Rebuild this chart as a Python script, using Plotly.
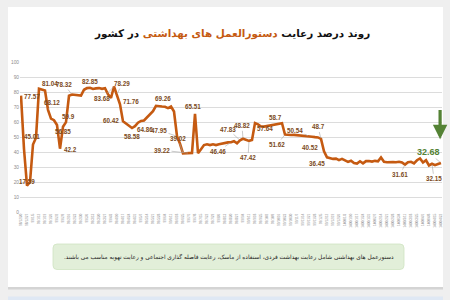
import plotly.graph_objects as go

# ---------------- data ----------------
values = [
    77.57, 42.0, 17.59, 20.0, 45.01, 49.5, 82.2, 81.8, 81.04, 68.12,
    62.2, 61.2, 58.0, 42.2, 56.85, 59.9, 77.5, 78.32, 78.1, 77.8,
    77.6, 81.5, 82.6, 82.85, 82.0, 82.4, 82.6, 82.1, 82.5, 78.5,
    76.0, 83.68, 78.29, 71.76, 60.42, 59.2, 57.5, 56.0, 57.2, 59.5,
    60.7, 61.0, 63.2, 64.86, 67.2, 70.8, 70.3, 70.3, 70.2, 69.26,
    70.3, 67.0, 50.5, 45.5, 39.02, 39.2, 39.22, 39.4, 65.51, 39.2,
    41.8, 44.6, 45.1, 44.6, 45.1, 44.6, 45.1, 45.6, 46.2, 46.4,
    46.46, 47.2, 45.8, 47.83, 48.82, 47.9, 47.42, 48.0, 59.3, 58.4,
    57.0, 56.9, 57.3, 57.64, 58.0, 58.3, 58.7, 59.2, 51.62, 51.3,
    51.3, 51.4, 51.2, 51.3, 51.3, 50.9, 50.54, 50.2, 49.9, 49.7,
    48.7, 40.52, 36.45, 36.0, 35.4, 35.6, 34.6, 35.4, 34.2, 33.4,
    34.2, 32.6, 32.3, 33.8, 32.4, 33.9, 34.0, 33.6, 34.1, 33.8,
    36.4, 33.5, 33.2, 33.4, 33.3, 33.2, 33.5, 33.0, 31.61, 33.2,
    33.5, 32.4, 34.5, 35.7, 33.0, 34.5, 31.0, 32.15, 31.2, 32.0,
    32.68,
]

tick_labels = [
    "98/12/20", "98/12/27", "99/1/5", "99/1/12", "99/1/19", "99/1/26",
    "99/2/2", "99/2/9", "99/2/16", "99/2/23", "99/2/30", "99/3/6",
    "99/3/13", "99/3/20", "99/3/27", "99/4/3", "99/4/10", "99/4/17",
    "99/4/24", "99/4/31", "99/5/7", "99/5/14", "99/5/21", "99/5/28",
    "99/6/4", "99/6/11", "99/6/18", "99/6/25", "99/7/1", "99/7/8",
    "99/7/15", "99/7/22", "99/7/29", "99/8/6", "99/8/13", "99/8/20",
    "99/8/27", "99/9/4", "99/9/11", "99/9/18", "99/9/25", "99/10/2",
    "99/10/9", "99/10/16", "99/10/23", "99/10/30", "99/11/7", "99/11/14",
    "99/11/21", "99/11/28", "99/12/5", "99/12/12", "99/12/19", "99/12/26",
    "1400/1/3", "1400/1/10", "1400/1/17", "1400/1/24", "1400/1/31", "1400/2/7",
    "1400/2/14", "1400/2/21", "1400/2/28", "1400/3/4", "1400/3/11", "1400/3/18",
    "1400/3/25", "1400/4/1", "1400/4/8", "1400/4/15", "1400/4/22",
]

# labelled points: index into values, and the label text
label_idx = [0, 2, 4, 8, 17, 9, 15, 14, 13, 23, 31, 32, 33, 34, 37, 41,
             52, 49, 54, 56, 58, 73, 74, 70, 76, 86, 83, 88, 96, 100, 101,
             102, 128, 137]
label_txt = ["77.57", "17.59", "45.01", "81.04", "78.32", "68.12", "59.9",
             "56.85", "42.2", "82.85", "83.68", "78.29", "71.76", "60.42",
             "58.58", "64.86", "47.95", "69.26", "39.02", "39.22", "65.51",
             "47.83", "48.82", "46.46", "47.42", "58.7", "57.64", "51.62",
             "50.54", "48.7", "40.52", "36.45", "31.61", "32.15"]
last_label = "32.68"

title_a = "روند درصد رعایت "
title_b = "دستورالعمل های بهداشتی"
title_c = " در کشور"
note_text = ("دستورعمل های بهداشتی شامل رعایت بهداشت فردی، استفاده از ماسک، "
             "رعایت فاصله گذاری اجتماعی و رعایت تهویه مناسب می باشند.")

# ---------------- styles / positions ----------------
LINE = "#c55a11"
LBL = "#7b4a22"
GREEN = "#548235"
RLE, PDF = "\u202b", "\u202c"
# pixel offsets of labels relative to their points (x right, y up)
label_shift = [(11, -1), (0, 4), (-1, 8), (5, 7), (-8, 10), (4, 7), (2, 6),
               (0, -5), (10, -1), (0, 6), (-12, -12), (5, 11), (11, 3),
               (-12, 1), (0, -8), (1, -9), (-18, 6), (-5, 10), (-5, 15),
               (-27, 3), (-2, 7), (-12, 11), (-1, 13), (-13, -9), (-1, -17),
               (-4, 6), (-5, -3), (-8, -10), (-14, 6), (-3, 12), (-14, 4),
               (-10, -6), (-5, -10), (2, -15)]
leader = {4, 5, 10, 11, 16, 18, 19, 21, 22, 23, 24, 25, 26, 27, 28, 29, 32, 33}

L, R, T, B = 20, 8, 62, 88
PW, PH = 450 - L - R, 300 - T - B


def px(x):
    return (x - L) / PW


def py(y):
    return (300 - B - y) / PH


x = list(range(len(values)))

fig = go.Figure()
fig.add_trace(go.Scatter(
    x=x, y=values, mode="lines",
    line=dict(color=LINE, width=2.6, shape="linear"),
    hoverinfo="skip", showlegend=False,
))

annotations = []
for k, (i, t) in enumerate(zip(label_idx, label_txt)):
    dx, dy = label_shift[k]
    annotations.append(dict(
        x=i, y=values[i], xref="x", yref="y", text=t,
        showarrow=True, ax=dx, ay=-dy, axref="pixel", ayref="pixel",
        arrowwidth=0.6, arrowhead=0, standoff=1,
        arrowcolor="#a6a6a6" if k in leader else "rgba(0,0,0,0)",
        font=dict(family="Liberation Sans", size=6.3, color=LBL, weight="bold"),
    ))

last = len(values) - 1
annotations.append(dict(
    x=last, y=values[last], xref="x", yref="y", text="<b>%s</b>" % last_label,
    showarrow=True, ax=-13, ay=-11, arrowwidth=0.6, arrowhead=0, standoff=1,
    arrowcolor="#a6a6a6",
    font=dict(family="Liberation Sans", size=9, color=GREEN),
))
# green down arrow
annotations.append(dict(
    x=last - 0.3, y=48.5, xref="x", yref="y", ax=last - 0.3, ay=69,
    axref="x", ayref="y", text="", showarrow=True,
    arrowhead=2, arrowsize=0.9, arrowwidth=3.2, arrowcolor=GREEN,
))
# title
annotations.append(dict(
    x=px(232), y=py(33), xref="paper", yref="paper", showarrow=False,
    text=("<b>" + RLE + title_a + "<span style='color:%s'>" % LINE + title_b +
          "</span>" + title_c + PDF + "</b>"),
    font=dict(family="DejaVu Sans", size=10.4, color="#111111"),
    xanchor="center", yanchor="middle",
))
# note
annotations.append(dict(
    x=px(229), y=py(256.5), xref="paper", yref="paper", showarrow=False,
    text=RLE + note_text + "\u200f" + PDF, xanchor="center", yanchor="middle",
    font=dict(family="DejaVu Sans", size=5.8, color="#222222"),
))

shapes = [
    # card
    dict(type="rect", xref="paper", yref="paper", x0=px(8), x1=px(443),
         y0=py(7), y1=py(287), fillcolor="white", line_width=0, layer="below"),
    dict(type="rect", xref="paper", yref="paper", x0=px(8), x1=px(443),
         y0=py(287), y1=py(289.5), fillcolor="#d4d4d4", line_width=0, layer="below"),
    dict(type="rect", xref="paper", yref="paper", x0=px(8), x1=px(443),
         y0=py(296.5), y1=py(301), fillcolor="#dfe8f4", line_width=0, layer="below"),
]
# rounded green note box
x0, x1, y0, y1, r = 53, 404, 244, 269.5, 4
path = ("M {a},{b} L {c},{b} Q {d},{b} {d},{e} L {d},{f} Q {d},{g} {c},{g} "
        "L {a},{g} Q {h},{g} {h},{f} L {h},{e} Q {h},{b} {a},{b} Z").format(
    a=px(x0 + r), b=py(y0), c=px(x1 - r), d=px(x1), e=py(y0 + r),
    f=py(y1 - r), g=py(y1), h=px(x0))
shapes.append(dict(type="path", xref="paper", yref="paper", path=path,
                   fillcolor="#e2efd9", line=dict(color="#cfe3c2", width=0.8),
                   layer="below"))

tickvals = list(range(0, len(values), 2))[:len(tick_labels)]

fig.update_layout(
    width=450, height=300,
    margin=dict(l=L, r=R, t=T, b=B, pad=0),
    paper_bgcolor="#efefef", plot_bgcolor="rgba(0,0,0,0)",
    shapes=shapes, annotations=annotations, showlegend=False,
    xaxis=dict(range=[-1 / 3, last + 1 / 3], tickmode="array",
               tickvals=tickvals, ticktext=tick_labels[:len(tickvals)],
               tickangle=-90, tickfont=dict(size=3.2, color="#8c8c8c",
                                            family="Liberation Sans"),
               showgrid=False, zeroline=False, showline=False, ticks="",
               fixedrange=True),
    yaxis=dict(range=[0, 100], dtick=10, showgrid=True, gridcolor="#dcdcdc",
               gridwidth=1, zeroline=False, showline=False, ticks="",
               tickfont=dict(size=4.8, color="#8c8c8c", family="Liberation Sans"),
               fixedrange=True),
)

fig.write_html("out.html", config={"displayModeBar": False})
